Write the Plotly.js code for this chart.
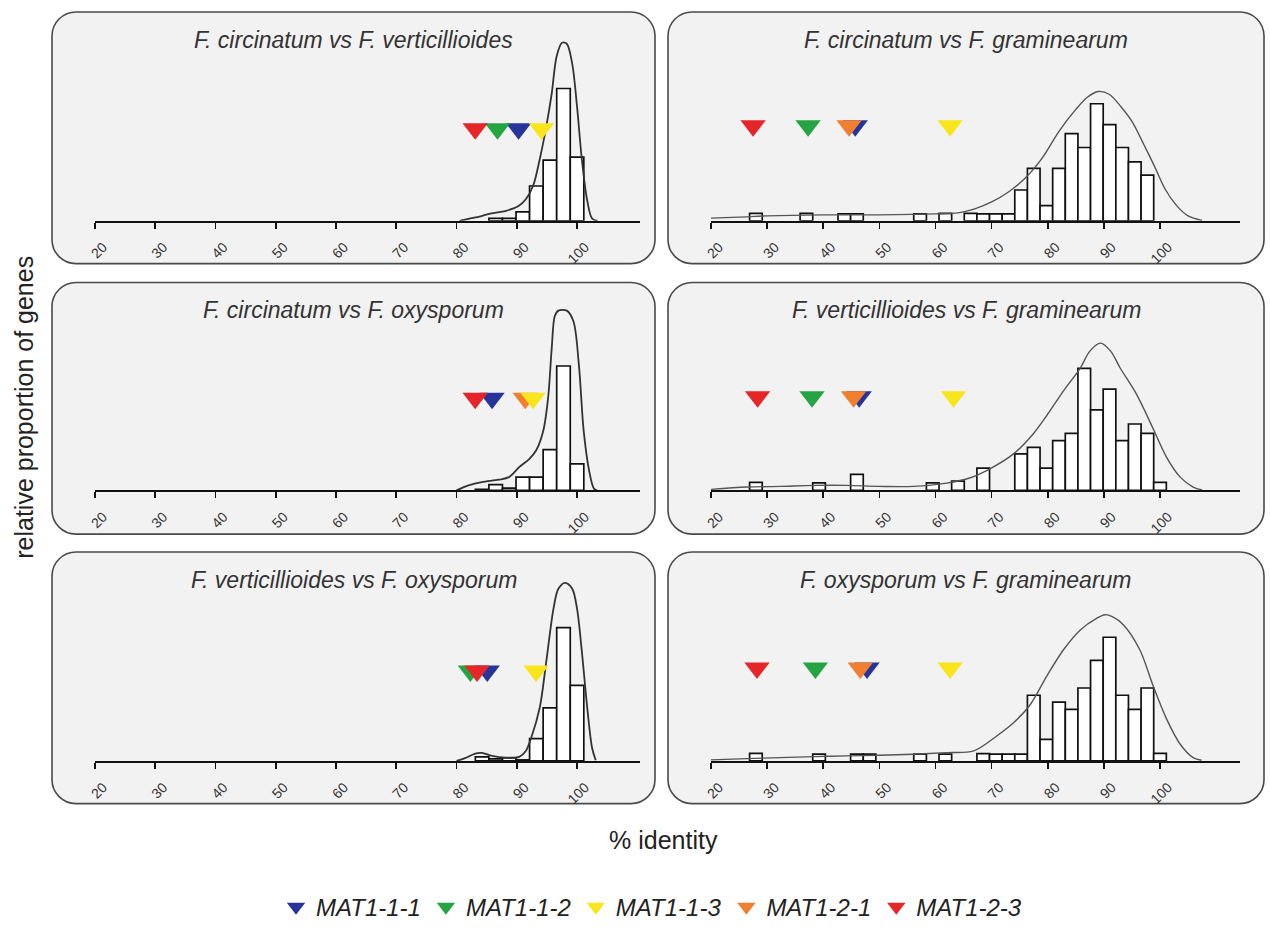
<!DOCTYPE html>
<html>
<head>
<meta charset="utf-8">
<script src="https://cdn.plot.ly/plotly-3.0.1.min.js"></script>
<style>html,body{margin:0;padding:0;background:#fff}</style>
</head>
<body>
<div id="chart" style="width:1270px;height:930px"></div>
<script>
// ---------------- DATA ----------------
const panelTitles = [
  "F. circinatum vs F. verticillioides",
  "F. circinatum vs F. graminearum",
  "F. circinatum vs F. oxysporum",
  "F. verticillioides vs F. graminearum",
  "F. verticillioides vs F. oxysporum",
  "F. oxysporum vs F. graminearum"
];
const tickValues = [20, 30, 40, 50, 60, 70, 80, 90, 100];
const tickLabels = ["20", "30", "40", "50", "60", "70", "80", "90", "100"];

const genes = ["MAT1-1-1", "MAT1-1-2", "MAT1-1-3", "MAT1-2-1", "MAT1-2-3"];
const geneColors = ["#27359a", "#25a444", "#f9e51b", "#f07f30", "#e52528"];

// histogram bins (bin centre, % identity) and relative proportion
const p1BinX = [86.5, 88.75, 91, 93.25, 95.5, 97.75, 100];
const p1BinY = [2.5, 2.5, 9, 35, 61, 133, 64];
const p2BinX = [28, 37, 43.75, 46, 57.25, 61.75, 66.25, 68.5, 70.75, 73, 75.25, 77.5, 79.75, 82, 84.25, 86.5, 88.75, 91, 93.25, 95.5, 97.75];
const p2BinY = [7.5, 7.5, 7, 7, 7, 7.5, 7.5, 7, 7, 7, 31, 52.7, 15.3, 52.7, 87.7, 73.7, 117.7, 96.7, 73.7, 59.3, 46];
const p3BinX = [84.25, 86.5, 88.75, 91, 93.25, 95.5, 97.75, 100];
const p3BinY = [1, 5.7, 2.3, 13.3, 13.3, 41, 125, 26.7];
const p4BinX = [28, 39.25, 46, 59.5, 64, 68.5, 75.25, 77.5, 79.75, 82, 84.25, 86.5, 88.75, 91, 93.25, 95.5, 97.75, 100];
const p4BinY = [8, 7.5, 16, 7.5, 9.3, 22.3, 36.7, 43.3, 22.3, 50, 57.3, 122.7, 81, 101.7, 50, 66.7, 57.3, 8];
const p5BinX = [84.25, 86.5, 88.75, 91, 93.25, 95.5, 97.75, 100];
const p5BinY = [4, 2, 3, 1, 22.3, 53.3, 134, 76];
const p6BinX = [28, 39.25, 46, 48.25, 57.25, 61.75, 68.5, 70.75, 73, 75.25, 77.5, 79.75, 82, 84.25, 86.5, 88.75, 91, 93.25, 95.5, 97.75, 100];
const p6BinY = [7.5, 6.7, 6.7, 6.7, 6.7, 6.7, 7.3, 6.7, 6.7, 6.7, 66, 21.7, 59, 51.7, 73.3, 101, 124.3, 66, 51.7, 73.3, 7.5];

// density curves
const p1CurveX = [80.5, 82, 84, 85.4, 88.2, 90.3, 91.5, 92.7, 93.8, 94.9, 95.8, 96.6, 97.5, 98.3, 99.2, 100, 100.8, 101.7, 102.5, 103.4];
const p1CurveY = [0, 2, 4.5, 7, 10, 15, 21.7, 35, 61.7, 95, 128, 165, 179, 178, 158, 115, 61.7, 20, 2.3, 0];
const p2CurveX = [20, 25, 30, 40, 50, 60, 64, 67, 70, 73, 76, 79, 82, 85, 87, 89, 91, 93, 95, 97, 99, 101, 103, 105, 107.5];
const p2CurveY = [2.7, 3.7, 5, 6, 6, 7, 8, 12, 19, 29, 43, 63, 90, 112, 124, 130, 127, 115, 100, 78, 55, 31, 15, 5, 0.5];
const p3CurveX = [80, 82, 84.2, 87, 88.7, 90.4, 92.1, 93.2, 94.4, 95.2, 95.8, 96.3, 96.9, 98.3, 99.4, 100.3, 101.1, 102, 102.8, 103.3];
const p3CurveY = [0, 5, 8.3, 10.7, 13.3, 23.3, 31.7, 40, 60, 93, 143, 175, 180.7, 180.7, 170, 126.7, 60, 20, 1.7, 0];
const p4CurveX = [20, 26.4, 32.3, 38.3, 44.2, 50.1, 56.1, 62, 66.2, 69.7, 73.9, 77.4, 79.8, 82.8, 85.8, 87.5, 89.4, 91.2, 92.9, 95.8, 98.8, 101.2, 103.6, 105.9, 107.5];
const p4CurveY = [1, 3.3, 4, 5, 5, 4, 4, 7.3, 12.7, 21.7, 36.7, 56.7, 75, 100, 123, 140, 148, 140, 123, 96.7, 61.7, 33, 13.3, 3.3, 0.5];
const p5CurveX = [80, 81.4, 83.1, 84.2, 85.9, 88.2, 90.4, 91.5, 92.4, 93.8, 94.9, 96.1, 96.9, 98, 99.2, 100, 100.8, 101.7, 102.5, 103.1];
const p5CurveY = [0, 2.7, 7.3, 8, 5, 3.3, 4, 10, 23.3, 53.3, 100, 153.3, 173, 179, 173, 153, 110, 53, 13, 0.7];
const p6CurveX = [20, 26.4, 32.3, 38.3, 44.2, 50.1, 56.1, 62, 66.8, 70.9, 73.9, 76.9, 79.8, 82.8, 85.8, 88.7, 90.2, 91.5, 93.5, 96.4, 98.8, 101.2, 103.6, 105.9, 107.4];
const p6CurveY = [1, 2.3, 3.3, 4.3, 5, 5.7, 6.7, 8.3, 10, 25, 38.3, 56.7, 85, 111.7, 131.7, 143.3, 147, 145, 136.7, 111.7, 75, 41.7, 16.7, 3.3, 0.7];

// gene positions (% identity), order = genes; null = not shown
const p1GeneX = [90.3, 86.8, 94.1, null, 83.1];
const p2GeneX = [45.7, 37.3, 62.6, 44.6, 27.5];
const p3GeneX = [85.9, null, 92.7, 91.4, 83.1];
const p4GeneX = [46.4, 38.0, 63.2, 45.4, 28.3];
const p5GeneX = [85.1, 82.3, 93.2, null, 83.4];
const p6GeneX = [47.8, 38.6, 62.6, 46.6, 28.2];
// marker level (relative proportion scale) per panel
const geneLevel = [92.5, 95.5, 92.5, 94, 90.5, 93.5];

// ---------------- BUILD ----------------
const W = 1270, H = 930;
const FONT = "Liberation Sans, Arial, sans-serif";
const panels = [
  {bx: p1BinX, by: p1BinY, cx: p1CurveX, cy: p1CurveY, gx: p1GeneX},
  {bx: p2BinX, by: p2BinY, cx: p2CurveX, cy: p2CurveY, gx: p2GeneX},
  {bx: p3BinX, by: p3BinY, cx: p3CurveX, cy: p3CurveY, gx: p3GeneX},
  {bx: p4BinX, by: p4BinY, cx: p4CurveX, cy: p4CurveY, gx: p4GeneX},
  {bx: p5BinX, by: p5BinY, cx: p5CurveX, cy: p5CurveY, gx: p5GeneX},
  {bx: p6BinX, by: p6BinY, cx: p6CurveX, cy: p6CurveY, gx: p6GeneX}
];
// drawing order bottom->top: blue, orange, yellow, green, red
const drawOrder = [0, 3, 2, 1, 4];

const colPx = [{x0: 95, x1: 640, r: 110.45}, {x0: 711, x1: 1240, r: 114.25}];
const rowAxisPx = [222, 493, 765];
const plotH = 190;
const boxCols = [[52, 655], [668, 1264]];
const boxRows = [[12, 265], [284, 537], [555, 808]];

const traces = [];
const layout = {
  width: W, height: H,
  margin: {l: 0, r: 0, t: 0, b: 0},
  paper_bgcolor: "#ffffff",
  plot_bgcolor: "rgba(0,0,0,0)",
  showlegend: true,
  barmode: "overlay",
  legend: {
    orientation: "h", x: 0.513, xanchor: "center", y: 1 - 912 / H, yanchor: "middle",
    font: {family: FONT, size: 24, style: "italic", color: "#222"},
    bgcolor: "rgba(0,0,0,0)", traceorder: "normal", itemwidth: 30
  },
  shapes: [],
  annotations: []
};

function fx(v) { return (v / W).toFixed(5); }
function fy(v) { return (1 - v / H).toFixed(5); }
function roundRect(x0, y0, x1, y1, r) {
  const k = 0.45 * r;
  return "M" + fx(x0 + r) + "," + fy(y0) +
    " L" + fx(x1 - r) + "," + fy(y0) +
    " C" + fx(x1 - k) + "," + fy(y0) + " " + fx(x1) + "," + fy(y0 + k) + " " + fx(x1) + "," + fy(y0 + r) +
    " L" + fx(x1) + "," + fy(y1 - r) +
    " C" + fx(x1) + "," + fy(y1 - k) + " " + fx(x1 - k) + "," + fy(y1) + " " + fx(x1 - r) + "," + fy(y1) +
    " L" + fx(x0 + r) + "," + fy(y1) +
    " C" + fx(x0 + k) + "," + fy(y1) + " " + fx(x0) + "," + fy(y1 - k) + " " + fx(x0) + "," + fy(y1 - r) +
    " L" + fx(x0) + "," + fy(y0 + r) +
    " C" + fx(x0) + "," + fy(y0 + k) + " " + fx(x0 + k) + "," + fy(y0) + " " + fx(x0 + r) + "," + fy(y0) + " Z";
}

panels.forEach(function (p, i) {
  const col = i % 2, row = Math.floor(i / 2);
  const n = i + 1;
  const xa = "x" + (n === 1 ? "" : n), ya = "y" + (n === 1 ? "" : n);
  const xkey = "xaxis" + (n === 1 ? "" : n), ykey = "yaxis" + (n === 1 ? "" : n);
  const c = colPx[col];
  const axisY = rowAxisPx[row];

  // panel box
  const bc = boxCols[col], br = boxRows[row];
  layout.shapes.push({
    type: "path", xref: "paper", yref: "paper", layer: "below",
    path: roundRect(bc[0], br[0], bc[1], br[1], 24),
    fillcolor: "#f2f2f2", line: {color: "#4a4a4a", width: 1.6}
  });
  // title
  layout.annotations.push({
    xref: "paper", yref: "paper", x: ((bc[0] + bc[1]) / 2) / W, y: 1 - (br[0] + 28) / H,
    xanchor: "center", yanchor: "middle", showarrow: false,
    text: panelTitles[i],
    font: {family: FONT, size: 23, style: "italic", color: "#333"}
  });

  layout[xkey] = {
    domain: [c.x0 / W, c.x1 / W], range: [20, c.r], anchor: ya,
    showline: true, linecolor: "#111", linewidth: 1.8, mirror: false,
    ticks: "outside", ticklen: 6, tickwidth: 1.6, tickcolor: "#111",
    tickmode: "array", tickvals: tickValues, ticktext: tickLabels, tickangle: -45,
    tickfont: {family: FONT, size: 14, color: "#333"},
    ticklabelshift: 8, ticklabelstandoff: 5,
    showgrid: false, zeroline: false, fixedrange: true
  };
  layout[ykey] = {
    domain: [1 - axisY / H, 1 - (axisY - plotH) / H], range: [0, plotH], anchor: xa,
    visible: false, showgrid: false, zeroline: false, fixedrange: true
  };

  traces.push({
    type: "bar", x: p.bx, y: p.by, width: 2.25, xaxis: xa, yaxis: ya,
    marker: {color: "#ffffff", line: {color: "#111", width: 1.7}},
    showlegend: false, hoverinfo: "skip"
  });
  traces.push({
    type: "scatter", mode: "lines", x: p.cx, y: p.cy, xaxis: xa, yaxis: ya,
    line: {color: col === 0 ? "#333" : "#555", width: col === 0 ? 1.8 : 1.4, shape: "spline", smoothing: 0.9},
    showlegend: false, hoverinfo: "skip"
  });
  drawOrder.forEach(function (g) {
    if (p.gx[g] === null) return;
    traces.push({
      type: "scatter", mode: "markers", x: [p.gx[g]], y: [geneLevel[i]], xaxis: xa, yaxis: ya,
      name: genes[g], legendgroup: genes[g], legendrank: g + 1,
      showlegend: i === 1,
      marker: {symbol: "triangle-down", size: 22, color: geneColors[g], line: {width: 0}},
      hoverinfo: "skip"
    });
  });
});

// axis titles
layout.annotations.push({
  xref: "paper", yref: "paper", x: 24 / W, y: 1 - 410 / H, xanchor: "center", yanchor: "middle",
  showarrow: false, textangle: -90, text: "relative proportion of genes",
  font: {family: FONT, size: 25, color: "#222"}
});
layout.annotations.push({
  xref: "paper", yref: "paper", x: 663 / W, y: 1 - 845 / H, xanchor: "center", yanchor: "middle",
  showarrow: false, text: "% identity",
  font: {family: FONT, size: 25, color: "#222"}
});

Plotly.newPlot("chart", traces, layout, {displayModeBar: false, staticPlot: true});
</script>
</body>
</html>
